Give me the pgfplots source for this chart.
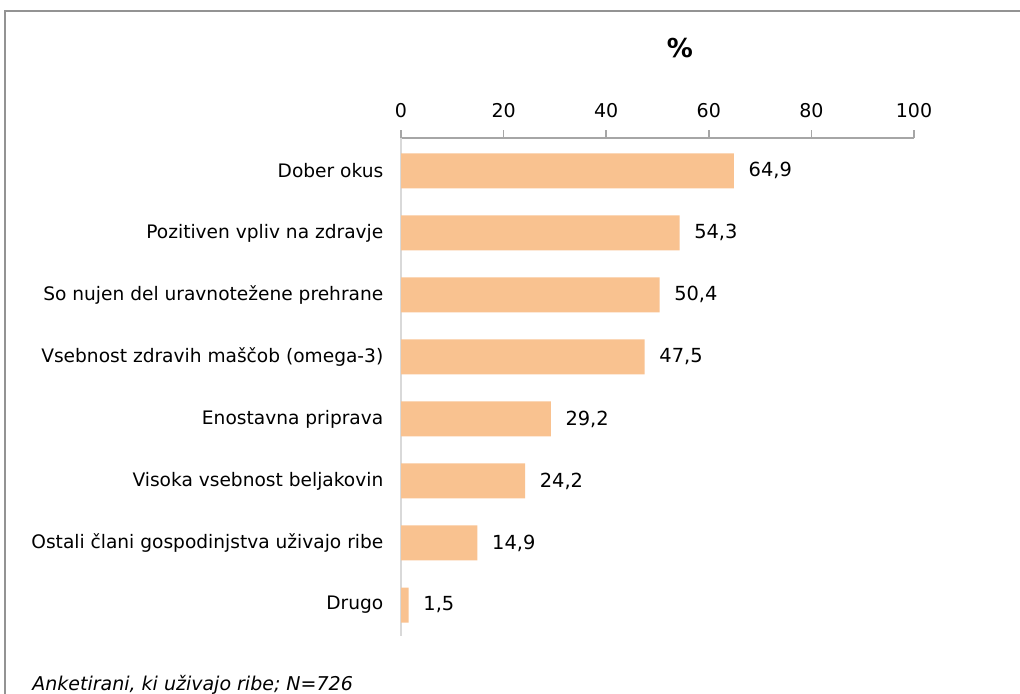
\documentclass[border=0pt]{standalone}
\usepackage{pgfplots}
\pgfplotsset{compat=1.18}
\usepackage{fontspec}
\setmainfont{DejaVu Sans}
\definecolor{barc}{HTML}{F9C290}
\definecolor{axg}{HTML}{A6A6A6}
\definecolor{lg}{HTML}{D9D9D9}
\begin{document}
\begin{tikzpicture}
\fontsize{9.5}{11}\selectfont
\draw[color=gray!85, line width=1pt] (2.5pt,-20pt) rectangle (540pt,341pt);
\begin{axis}[
  at={(200.5pt,28.5pt)}, anchor=south west,
  width=256.5pt, height=249pt, scale only axis,
  xmin=0, xmax=100, ymin=-0.53, ymax=7.5,
  y dir=reverse,
  axis x line*=top, axis y line*=left,
  x axis line style={color=axg, line width=0.8pt, -},
  y axis line style={color=lg, line width=0.8pt, -},
  xtick={0,20,...,100},
  xtick style={color=axg, line width=0.8pt},
  tick align=outside, major tick length=4pt,
  ytick={0,...,7},
  ytick style={draw=none},
  yticklabels={Dober okus, Pozitiven vpliv na zdravje, So nujen del uravnotežene prehrane, Vsebnost zdravih maščob (omega-3), Enostavna priprava, Visoka vsebnost beljakovin, Ostali člani gospodinjstva uživajo ribe, Drugo},
  yticklabel style={font=\fontsize{9.3}{11}\selectfont, xshift=-1.5pt},
  xticklabel style={font=\fontsize{9.5}{11}\selectfont, yshift=3pt},
  /pgf/number format/assume math mode=true,
  xbar, bar width=17.5pt,
  nodes near coords,
  nodes near coords style={font=\fontsize{9.7}{11}\selectfont, anchor=west, xshift=4pt,
    /pgf/number format/.cd, use comma, fixed, fixed zerofill, precision=1, assume math mode=true},
  clip=false,
]
\addplot[fill=barc, draw=none] coordinates {(64.9,0) (54.3,1) (50.4,2) (47.5,3) (29.2,4) (24.2,5) (14.9,6) (1.5,7)};
\end{axis}
\node[font=\fontsize{13}{15}\selectfont\bfseries] at (340pt,322.5pt) {\%};
\node[anchor=west, font=\fontsize{9.5}{11}\selectfont\itshape, inner sep=0pt] at (16pt,4pt) {Anketirani, ki uživajo ribe; N=726};
\pgfresetboundingbox
\useasboundingbox (0,0) rectangle (510pt,346.5pt);
\end{tikzpicture}
\end{document}
